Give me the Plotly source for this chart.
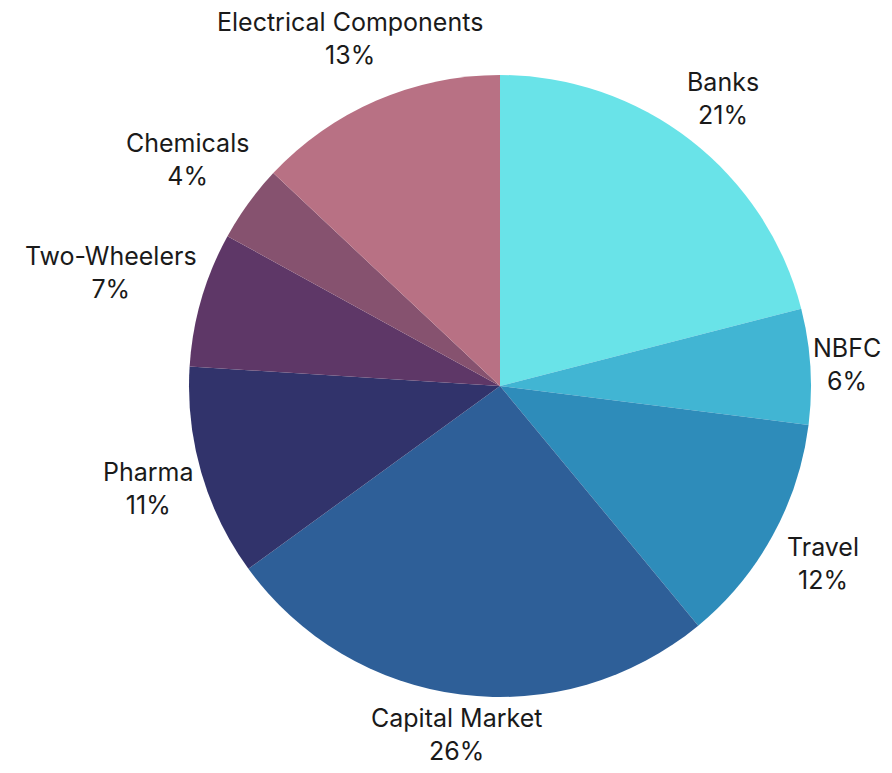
import math
import plotly.graph_objects as go

labels = ["Banks", "NBFC", "Travel", "Capital Market", "Pharma",
          "Two-Wheelers", "Chemicals", "Electrical Components"]
values = [21, 6, 12, 26, 11, 7, 4, 13]
colors = ["#69E3E8", "#41B5D3", "#2E8CBA", "#2E5F98", "#31336B",
          "#5E3767", "#86526F", "#B87184"]

# figure size (page body has an 8px margin on each side)
W, H = 892 - 16, 773 - 16
cx, cy, r = 492, 378, 311          # pie centre / radius in figure pixels

FONT = "Inter, Lato, sans-serif"
FSIZE = 25
CHAR_W = 0.54 * FSIZE              # approx. char advance used for label layout
HALF_H = 30                        # half height of a two-line label
GAP = 8                            # gap between pie edge and label box
EDGE = 31                          # min distance of label centre from top/bottom

fig = go.Figure(go.Pie(
    labels=labels,
    values=values,
    sort=False,
    direction="clockwise",
    rotation=0,
    marker=dict(colors=colors, line=dict(width=0)),
    textinfo="none",
    domain=dict(x=[(cx - r) / W, (cx + r) / W],
                y=[1 - (cy + r) / H, 1 - (cy - r) / H]),
    showlegend=False,
    automargin=False,
))

total = sum(values)
cum = 0.0
annotations = []
for lab, v in zip(labels, values):
    mid = (cum + v / 2) / total * 2 * math.pi
    cum += v
    s, c = math.sin(mid), math.cos(mid)
    pct = round(v / total * 100)
    nchar = max(len(lab), len(f"{pct}%"))
    half_w = nchar * CHAR_W / 2
    d = r + GAP + half_w * abs(s) + HALF_H * abs(c)
    x = cx + d * s
    y = cy - d * c
    # keep label inside the canvas vertically by pulling it in along the ray
    if y < EDGE and c > 0:
        d = (cy - EDGE) / c
    elif y > H - EDGE and c < 0:
        d = (cy - (H - EDGE)) / c
    x = cx + d * s
    y = cy - d * c
    annotations.append(dict(
        x=x / W, y=1 - y / H, xref="paper", yref="paper",
        text=f"{lab}<br>{pct}%", showarrow=False,
        xanchor="center", yanchor="middle", align="center",
        font=dict(family=FONT, size=FSIZE, color="#1a1a1a"),
    ))

fig.update_layout(
    width=W, height=H,
    margin=dict(l=0, r=0, t=0, b=0),
    paper_bgcolor="white",
    plot_bgcolor="white",
    annotations=annotations,
)

fig.write_html("out.html")
